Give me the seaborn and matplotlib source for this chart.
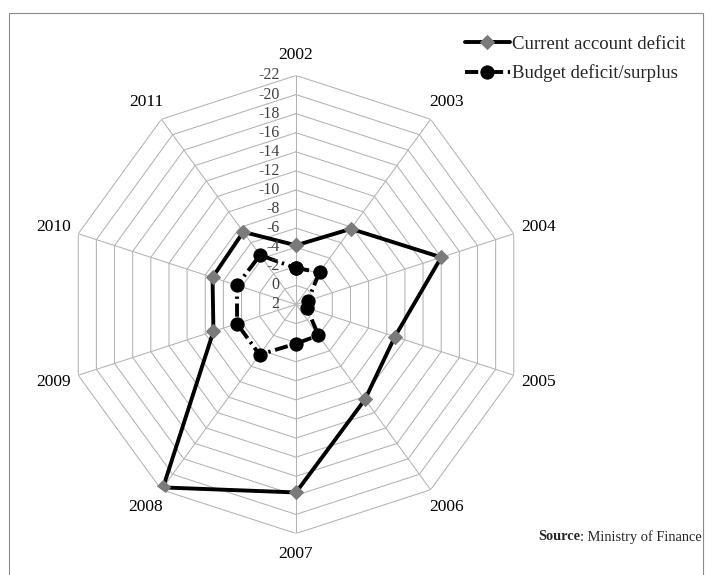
import numpy as np
import pandas as pd
import seaborn as sns
import matplotlib.pyplot as plt
from matplotlib.patches import Rectangle

# values (percent of GDP)
years = ["2002", "2003", "2004", "2005", "2006", "2007", "2008", "2009", "2010", "2011"]
current_account = [-4.2, -7.8, -14.0, -8.9, -10.3, -17.7, -21.7, -7.1, -7.2, -7.4]
budget = [-1.8, -2.2, 0.7, 0.8, -2.0, -2.1, -4.5, -4.5, -4.5, -4.4]
ring_ticks = [2, 0, -2, -4, -6, -8, -10, -12, -14, -16, -18, -20, -22]

sns.set_theme(style="white")
plt.rcParams["font.family"] = ["Liberation Serif", "DejaVu Serif"]

n = len(years)
theta = np.linspace(0, 2 * np.pi, n, endpoint=False)
theta_closed = np.append(theta, 2 * np.pi)

df_ca = pd.DataFrame({"theta": theta_closed, "value": current_account + current_account[:1]})
df_bd = pd.DataFrame({"theta": theta_closed, "value": budget + budget[:1]})

fig = plt.figure(figsize=(7.12, 5.75), dpi=100)
ax = fig.add_axes([0.0941, 0.0722, 0.6433, 0.7965], projection="polar")
ax.set_theta_zero_location("N")
ax.set_theta_direction(-1)
ax.set_ylim(ring_ticks[0], ring_ticks[-1])
ax.grid(False)
ax.set_xticks([])
ax.set_yticks([])
ax.spines["polar"].set_visible(False)
ax.set_facecolor("none")

# excel-style polygon grid
grid_col = "#b3b3b3"
for t in ring_ticks[1:]:
    ax.plot(theta_closed, [t] * (n + 1), color=grid_col, lw=0.75, zorder=1)
for th in theta:
    ax.plot([th, th], [ring_ticks[0], ring_ticks[-1]], color=grid_col, lw=0.75, zorder=1)

# series
sns.lineplot(data=df_ca, x="theta", y="value", sort=False, ax=ax, color="black",
             lw=2.8, marker="D", markersize=7.5, markerfacecolor="#7a7a7a",
             markeredgecolor="#7a7a7a", zorder=3)
line_ca = ax.lines[-1]
sns.lineplot(data=df_bd, x="theta", y="value", sort=False, ax=ax, color="black",
             lw=2.8, marker="o", markersize=9.5, markerfacecolor="black",
             markeredgecolor="black", zorder=3)
line_bd = ax.lines[-1]
line_bd.set_dashes((3.4, 1.2, 0.6, 1.2))
ax.set_xlabel("")
ax.set_ylabel("")

# category labels
for th, yr in zip(theta, years):
    ax.annotate(yr, xy=(th, ring_ticks[-1]), xytext=(19 * np.sin(th), 15 * np.cos(th)),
                textcoords="offset points", ha="center", va="center", fontsize=12.5,
                color="black")

# radial tick labels
for t in ring_ticks:
    ax.annotate(str(t), xy=(0, t), xytext=(-12, 0), textcoords="offset points",
                ha="right", va="center", fontsize=11.5, color="#404040")

fig.legend([line_ca, line_bd], ["Current account deficit", "Budget deficit/surplus"],
           loc="upper left", bbox_to_anchor=(0.653, 0.938), frameon=False,
           prop={"size": 13.5}, handlelength=2.4, handletextpad=0.1,
           labelspacing=0.62, borderpad=0, borderaxespad=0, numpoints=1)

src = fig.text(538 / 712, 1 - 537 / 575, "Source", fontsize=10.4, fontweight="bold",
               ha="left", va="center")
ax.annotate(": Ministry of Finance", xy=(1, 0), xycoords=src, ha="left", va="bottom",
            fontsize=10.4, annotation_clip=False)

fig.patches.append(Rectangle((9.3 / 712, -0.05), (703 - 9.3) / 712, 1 - 12.7 / 575 + 0.05,
                             transform=fig.transFigure, fill=False, edgecolor="#8c8c8c",
                             lw=0.8))

fig.savefig("out.png", dpi=100)
